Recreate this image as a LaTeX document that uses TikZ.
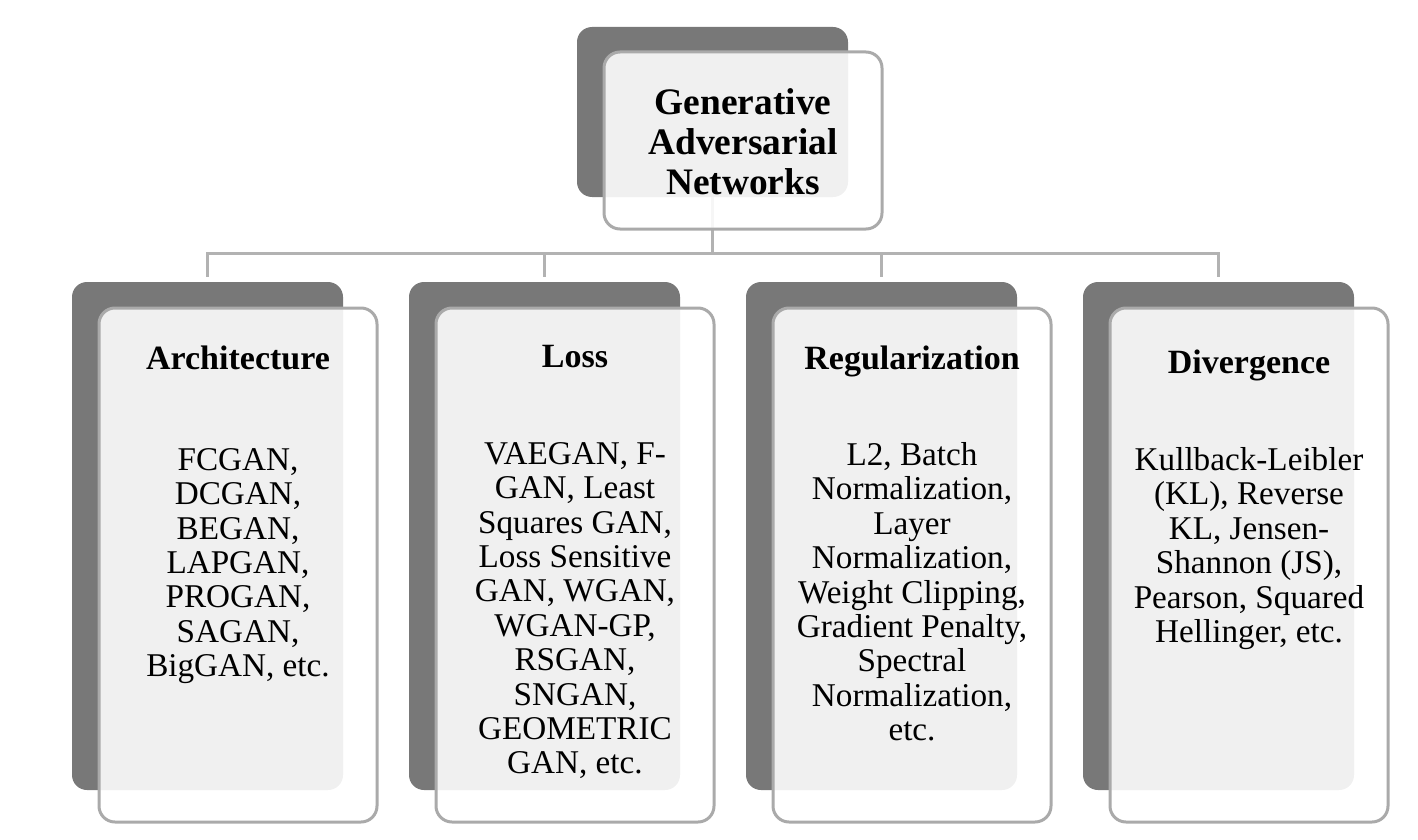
\documentclass[tikz,border=0pt]{standalone}
\usepackage{fontspec}
\setmainfont{Liberation Serif}
\begin{document}
\definecolor{shade}{HTML}{787878}
\definecolor{rim}{HTML}{AAAAAA}
\definecolor{wire}{HTML}{B2B2B2}
\begin{tikzpicture}[x=0.5pt,y=-0.5pt,
  backbox/.style={fill=shade,draw=none,rounded corners=7.5pt,inner sep=0pt,
    minimum width=135.5pt},
  frontbox/.style={fill=white,fill opacity=0.89,draw=rim,draw opacity=1,
    line width=1.5pt,rounded corners=8pt,inner sep=0pt,minimum width=139pt},
  conn/.style={draw=wire,line width=1.5pt},
  head/.style={inner sep=0pt,anchor=base,font=\fontsize{17}{20}\selectfont\bfseries},
  body/.style={inner sep=0pt,anchor=north,align=center,
    font=\fontsize{16.6}{17.2}\selectfont},
  toptext/.style={inner sep=0pt,anchor=north,align=center,
    font=\fontsize{18.7}{20}\selectfont\bfseries}]
\useasboundingbox (0,0) rectangle (1418,840);

% shaded back plates
\node[backbox,minimum height=85pt] (gan-back) at (712.5,112) {};
\foreach \n/\dx in {arch/0,loss/337,reg/674,div/1011}{
  \node[backbox,minimum height=254pt] (\n-back) at (207.5+\dx,536) {};
}

% tree connectors
\foreach \n in {arch,loss,reg,div}{
  \draw[conn] (gan-back.south) -- ++(0,56) -| ([yshift=2.5pt]\n-back.north);
}

% translucent front panels
\node[frontbox,minimum height=88.5pt] (gan-front) at (743,140.5) {};
\foreach \n/\dx in {arch/0,loss/337,reg/674,div/1011}{
  \node[frontbox,minimum height=257pt] (\n-front) at (238+\dx,565) {};
}

% labels
\node[toptext] (gan-text) at (743,88) {Generative\\Adversarial\\Networks};

\node[head] (arch-head) at (238,369) {Architecture};
\node[head] (loss-head) at (575,367) {Loss};
\node[head] (reg-head) at (912,369) {Regularization};
\node[head] (div-head) at (1249,373) {Divergence};

\node[body] (arch-body) at (238,448) {FCGAN,\\DCGAN,\\BEGAN,\\LAPGAN,\\PROGAN,\\SAGAN,\\BigGAN, etc.};
\node[body] (loss-body) at (575,442) {VAEGAN, F-\\GAN, Least\\Squares GAN,\\Loss Sensitive\\GAN, WGAN,\\WGAN-GP,\\RSGAN,\\SNGAN,\\GEOMETRIC\\GAN, etc.};
\node[body] (reg-body) at (912,442) {L2, Batch\\Normalization,\\Layer\\Normalization,\\Weight Clipping,\\Gradient Penalty,\\Spectral\\Normalization,\\etc.};
\node[body] (div-body) at (1249,447) {Kullback-Leibler\\(KL), Reverse\\KL, Jensen-\\Shannon (JS),\\Pearson, Squared\\Hellinger, etc.};
\end{tikzpicture}
\end{document}
